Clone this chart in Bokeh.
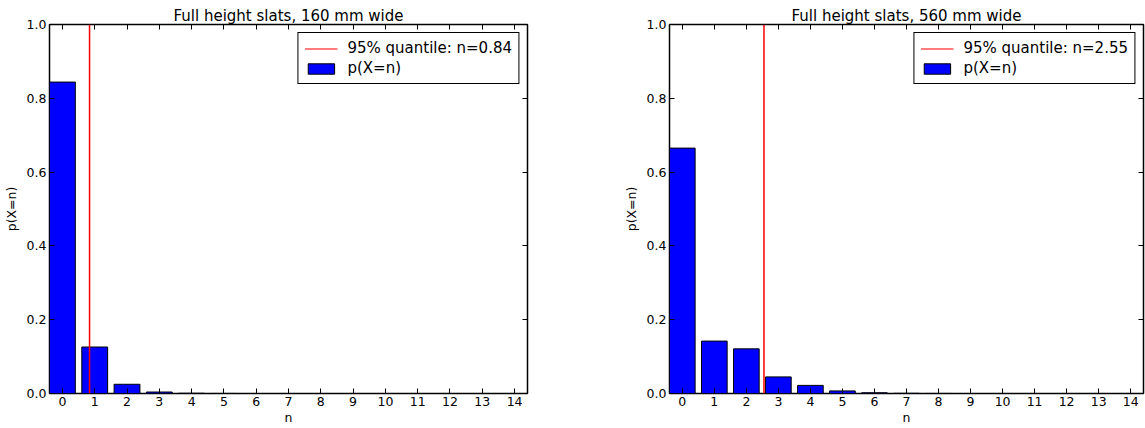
from bokeh.plotting import figure
from bokeh.layouts import row
from bokeh.models import (Span, Legend, LegendItem, LinearAxis, FixedTicker,
                          NumeralTickFormatter, Range1d)
from bokeh.embed import file_html
from bokeh.resources import INLINE

n_values = list(range(15))
p_160 = [0.844, 0.126, 0.025, 0.004, 0.0006, 0.0001, 0, 0, 0, 0, 0, 0, 0, 0, 0]
p_560 = [0.665, 0.142, 0.121, 0.045, 0.022, 0.007, 0.002, 0.0005, 0.0001, 0, 0, 0, 0, 0, 0]
q_160 = 0.84
q_560 = 2.55
titles = ["Full height slats, 160 mm wide", "Full height slats, 560 mm wide"]
y_ticks = [0.0, 0.2, 0.4, 0.6, 0.8, 1.0]

FONT = "DejaVu Sans"


def style_axis(ax):
    ax.major_tick_in = 5
    ax.major_tick_out = 0
    ax.minor_tick_in = 0
    ax.minor_tick_out = 0
    ax.axis_line_color = None
    ax.major_tick_line_color = "black"
    ax.major_label_text_font = FONT
    ax.major_label_text_font_size = "12.5px"
    ax.major_label_text_color = "black"
    ax.axis_label_text_font = FONT
    ax.axis_label_text_font_size = "12.5px"
    ax.axis_label_text_font_style = "normal"
    ax.axis_label_text_color = "black"


def make_plot(title, vals, q, frame_w, min_left, min_right):
    p = figure(output_backend="svg", toolbar_location=None,
               frame_width=frame_w, frame_height=369,
               x_range=Range1d(-0.4, 14.4), y_range=Range1d(0, 1.0),
               min_border_left=min_left, min_border_right=min_right,
               min_border_top=24, min_border_bottom=0)
    p.title.text = title
    p.title.text_font = FONT
    p.title.text_font_size = "15px"
    p.title.text_font_style = "normal"
    p.title.text_color = "black"
    p.title.align = "center"
    p.title.standoff = 0
    p.title.offset = 0
    p.grid.visible = False
    p.outline_line_color = "black"
    p.outline_line_width = 1.5
    p.outline_line_alpha = 1
    p.background_fill_color = "white"
    p.border_fill_color = "white"

    p.xaxis.ticker = FixedTicker(ticks=n_values)
    p.yaxis.ticker = FixedTicker(ticks=y_ticks)
    p.yaxis.formatter = NumeralTickFormatter(format="0.0")
    p.xaxis.axis_label = "n"
    p.yaxis.axis_label = "p(X=n)"
    p.xaxis.major_label_standoff = 3
    p.yaxis.major_label_standoff = 3
    p.xaxis.axis_label_standoff = 1
    p.yaxis.axis_label_standoff = 5
    for ax in p.xaxis + p.yaxis:
        style_axis(ax)

    top_ax = LinearAxis(ticker=FixedTicker(ticks=n_values),
                        major_label_overrides={t: "" for t in n_values})
    right_ax = LinearAxis(ticker=FixedTicker(ticks=y_ticks),
                          major_label_overrides={t: "" for t in y_ticks})
    for ax in (top_ax, right_ax):
        style_axis(ax)
        ax.major_label_standoff = 0
    p.add_layout(top_ax, "above")
    p.add_layout(right_ax, "right")

    bars = p.vbar(x=n_values, top=vals, width=0.8, bottom=0,
                  fill_color="#0000ff", line_color="black", line_width=1)
    p.add_layout(Span(location=q, dimension="height", line_color="red",
                      line_width=1.5))
    qline = p.line(x=[q], y=[0], line_color="#ff5050", line_width=1.5)

    legend = Legend(items=[
        LegendItem(label="95%% quantile: n=%.2f" % q, renderers=[qline]),
        LegendItem(label="p(X=n)", renderers=[bars]),
    ], location="top_right")
    legend.label_text_font = FONT
    legend.label_text_font_size = "15px"
    legend.label_text_color = "black"
    legend.label_height = 17
    legend.glyph_width = 33
    legend.glyph_height = 13
    legend.label_standoff = 10
    legend.padding = 6
    legend.spacing = 2
    legend.margin = 8
    legend.border_line_color = "black"
    legend.border_line_width = 1.5
    legend.border_line_alpha = 1
    legend.background_fill_alpha = 1
    p.add_layout(legend, "center")
    return p


p1 = make_plot(titles[0], p_160, q_160, 478, 41, 93)
p2 = make_plot(titles[1], p_560, q_560, 474, 41, 2)

layout = row(p1, p2)
open("out.html", "w").write(file_html(layout, INLINE))
